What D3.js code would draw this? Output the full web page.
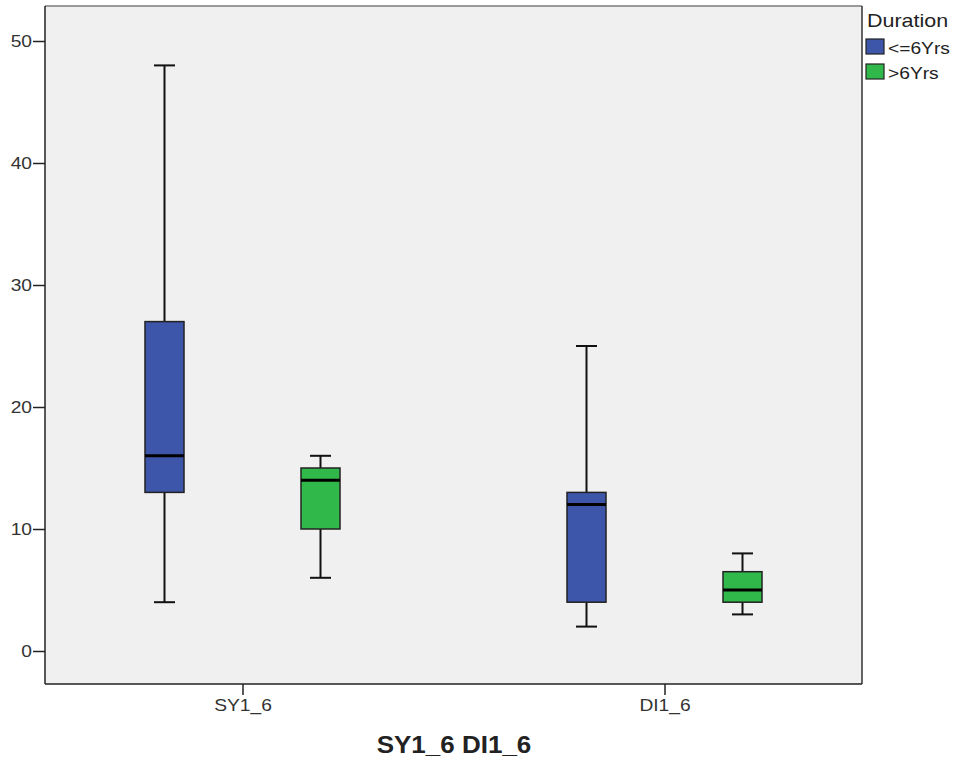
<!DOCTYPE html>
<html><head><meta charset="utf-8">
<script src="https://cdn.jsdelivr.net/npm/d3@7"></script>
<style>body{margin:0;background:#fff;} svg{display:block;}</style>
</head><body>
<svg id="c" width="958" height="763"></svg>
<script>
const categories = ["SY1_6", "DI1_6"];
const groups = ["<=6Yrs", ">6Yrs"];
const colors = ["#3d56a9", "#30b84b"];
// [min, q1, median, q3, max] per category per group
const shortDuration = [[4, 13, 16, 27, 48], [2, 4, 12, 13, 25]];
const longDuration = [[6, 10, 14, 15, 16], [3, 4, 5, 6.5, 8]];
const yTicks = [0, 10, 20, 30, 40, 50];

const FONT = "Liberation Sans, Arial, sans-serif";
const svg = d3.select("#c");
const L = 45, R = 862, T = 6, B = 684;
const y = d3.scaleLinear().domain([0, 50]).range([651, 41]);
const x = d3.scalePoint().domain(categories).range([L, R]).padding(0.468);
const offs = d3.scalePoint().domain(groups).range([-78, 78]);
const boxW = 39, capW = 21;

svg.append("rect").attr("x", L).attr("y", T).attr("width", R - L).attr("height", B - T)
  .attr("fill", "#f0f0f0");
svg.append("line").attr("x1", L).attr("x2", R).attr("y1", T).attr("y2", T).attr("stroke", "#7a7a7a").attr("stroke-width", 1.5);
svg.append("line").attr("x1", R).attr("x2", R).attr("y1", T).attr("y2", B).attr("stroke", "#333").attr("stroke-width", 1.5);

const ya = svg.append("g").attr("transform", `translate(${L},0)`)
  .call(d3.axisLeft(y).tickValues(yTicks).tickSize(12).tickSizeOuter(0).tickPadding(1));
ya.select(".domain").remove();
ya.append("line").attr("x1", 0).attr("x2", 0).attr("y1", T).attr("y2", B).attr("stroke", "#222").attr("stroke-width", 1.5);
ya.selectAll(".tick line").attr("stroke", "#222").attr("stroke-width", 1.5);
ya.selectAll(".tick text").attr("font-family", FONT).attr("font-size", 17).attr("fill", "#333");

const xa = svg.append("g").attr("transform", `translate(0,${B})`)
  .call(d3.axisBottom(x).tickSize(11).tickSizeOuter(0).tickPadding(4));
xa.select(".domain").remove();
xa.append("line").attr("x1", L).attr("x2", R).attr("y1", 0).attr("y2", 0).attr("stroke", "#222").attr("stroke-width", 1.5);
xa.selectAll(".tick line").attr("stroke", "#222").attr("stroke-width", 1.5);
xa.selectAll(".tick text").attr("font-family", FONT).attr("font-size", 17).attr("fill", "#333");

const seriesData = [shortDuration, longDuration];
seriesData.forEach((ser, gi) => {
  ser.forEach((s, ci) => {
    const cx = x(categories[ci]) + offs(groups[gi]);
    const [mn, q1, md, q3, mx] = s;
    const g = svg.append("g");
    g.append("line").attr("x1", cx).attr("x2", cx).attr("y1", y(mx)).attr("y2", y(q3)).attr("stroke", "#111").attr("stroke-width", 2);
    g.append("line").attr("x1", cx).attr("x2", cx).attr("y1", y(q1)).attr("y2", y(mn)).attr("stroke", "#111").attr("stroke-width", 2);
    g.append("line").attr("x1", cx - capW / 2).attr("x2", cx + capW / 2).attr("y1", y(mx)).attr("y2", y(mx)).attr("stroke", "#111").attr("stroke-width", 2);
    g.append("line").attr("x1", cx - capW / 2).attr("x2", cx + capW / 2).attr("y1", y(mn)).attr("y2", y(mn)).attr("stroke", "#111").attr("stroke-width", 2);
    g.append("rect").attr("x", cx - boxW / 2).attr("y", y(q3)).attr("width", boxW).attr("height", y(q1) - y(q3))
      .attr("fill", colors[gi]).attr("stroke", "#222").attr("stroke-width", 1.5);
    g.append("line").attr("x1", cx - boxW / 2).attr("x2", cx + boxW / 2).attr("y1", y(md)).attr("y2", y(md)).attr("stroke", "#000").attr("stroke-width", 3);
  });
});

svg.append("text").attr("x", 454).attr("y", 753).attr("text-anchor", "middle")
  .attr("font-family", FONT).attr("font-size", 23).attr("font-weight", "bold").attr("fill", "#222")
  .text("SY1_6 DI1_6");

const leg = svg.append("g");
leg.append("text").attr("x", 867).attr("y", 27).attr("font-family", FONT).attr("font-size", 19).attr("fill", "#222").text("Duration");
groups.forEach((gname, i) => {
  const yy = 39 + i * 25;
  leg.append("rect").attr("x", 866).attr("y", yy).attr("width", 18).attr("height", 15)
    .attr("fill", colors[i]).attr("stroke", "#222").attr("stroke-width", 1.2);
  leg.append("text").attr("x", 888).attr("y", yy + 15).attr("font-family", FONT).attr("font-size", 17).attr("fill", "#222").text(gname);
});

// reference text is slightly wider than the font's natural width
svg.selectAll("text").each(function () {
  const w = this.getComputedTextLength();
  d3.select(this).attr("textLength", w * 1.13).attr("lengthAdjust", "spacingAndGlyphs");
});
</script>
</body></html>
